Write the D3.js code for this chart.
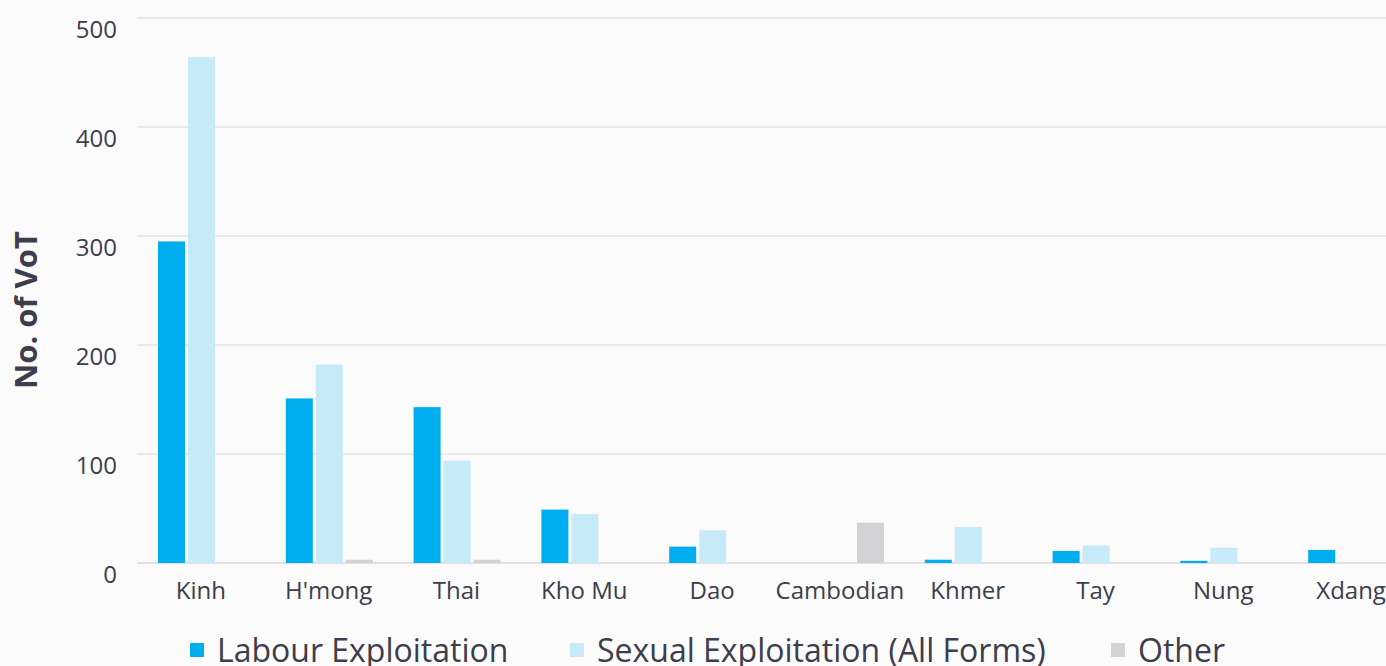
<!DOCTYPE html>
<html>
<head>
<meta charset="utf-8">
<script src="https://cdn.jsdelivr.net/npm/d3@7"></script>
<style>
  body { margin: 0; background: #fbfbfb; }
  svg { display: block; font-family: "Open Sans", sans-serif; }
</style>
</head>
<body>
<svg id="chart" width="1386" height="666"></svg>
<script>
// categories and series
const categories = ["Kinh", "H'mong", "Thai", "Kho Mu", "Dao", "Cambodian", "Khmer", "Tay", "Nung", "Xdang"];
const seriesNames = ["Labour Exploitation", "Sexual Exploitation (All Forms)", "Other"];
const labour = [295, 151, 143, 49, 15, 0, 3, 11, 2, 12];
const sexual = [464, 182, 94, 45, 30, 0, 33, 16, 14, 0];
const other  = [0, 3, 3, 0, 0, 37, 0, 0, 0, 0];
const yTicks = [0, 100, 200, 300, 400, 500];
const colors = ["#00aeef", "#c7eaf9", "#d3d3d5"];

const series = [labour, sexual, other];

const svg = d3.select("#chart");
const margin = {left: 137, top: 18, bottom: 563};

const x = d3.scaleBand()
  .domain(categories)
  .range([137, 137 + 127.8 * categories.length]);

const xInner = d3.scaleBand()
  .domain(d3.range(series.length))
  .range([21, 108])
  .paddingInner(0.1);

const y = d3.scaleLinear()
  .domain([0, 500])
  .range([margin.bottom, margin.top]);

// grid lines
svg.append("g")
  .selectAll("line")
  .data(yTicks)
  .join("line")
    .attr("x1", margin.left)
    .attr("x2", 1386)
    .attr("y1", d => y(d))
    .attr("y2", d => y(d))
    .attr("stroke", d => d === 0 ? "#d8d8d8" : "#e3e3e3")
    .attr("stroke-width", 1.5);

// y tick labels
svg.append("g")
  .selectAll("text")
  .data(yTicks)
  .join("text")
    .attr("x", 117)
    .attr("y", d => y(d) + 20)
    .attr("text-anchor", "end")
    .attr("font-size", 24)
    .attr("fill", "#3d3d4d")
    .text(d => d);

// y axis title
svg.append("text")
  .attr("transform", "translate(37 310) rotate(-90)")
  .attr("text-anchor", "middle")
  .attr("font-size", 31)
  .attr("font-weight", "bold")
  .attr("fill", "#3d3d4d")
  .text("No. of VoT");

// bars
const groups = svg.append("g")
  .selectAll("g")
  .data(categories)
  .join("g")
    .attr("transform", d => `translate(${x(d)} 0)`);

groups.selectAll("rect")
  .data((c, i) => series.map((s, k) => ({k: k, v: s[i]})).filter(d => d.v > 0))
  .join("rect")
    .attr("x", d => xInner(d.k))
    .attr("width", xInner.bandwidth())
    .attr("y", d => y(d.v))
    .attr("height", d => y(0) - y(d.v))
    .attr("fill", d => colors[d.k]);

// x labels
svg.append("g")
  .selectAll("text")
  .data(categories)
  .join("text")
    .attr("x", d => x(d) + x.bandwidth() / 2)
    .attr("y", 599)
    .attr("text-anchor", "middle")
    .attr("font-size", 24)
    .attr("fill", "#3d3d4d")
    .text(d => d);

// legend
const legendX = [190, 570, 1111];
const legend = svg.append("g")
  .selectAll("g")
  .data(seriesNames)
  .join("g")
    .attr("transform", (d, i) => `translate(${legendX[i]} 0)`);
legend.append("rect")
  .attr("x", 0).attr("y", 643)
  .attr("width", 14).attr("height", 14)
  .attr("fill", (d, i) => colors[i]);
legend.append("text")
  .attr("x", 27).attr("y", 662)
  .attr("font-size", 32)
  .attr("fill", "#3d3d4d")
  .text(d => d);
</script>
</body>
</html>
